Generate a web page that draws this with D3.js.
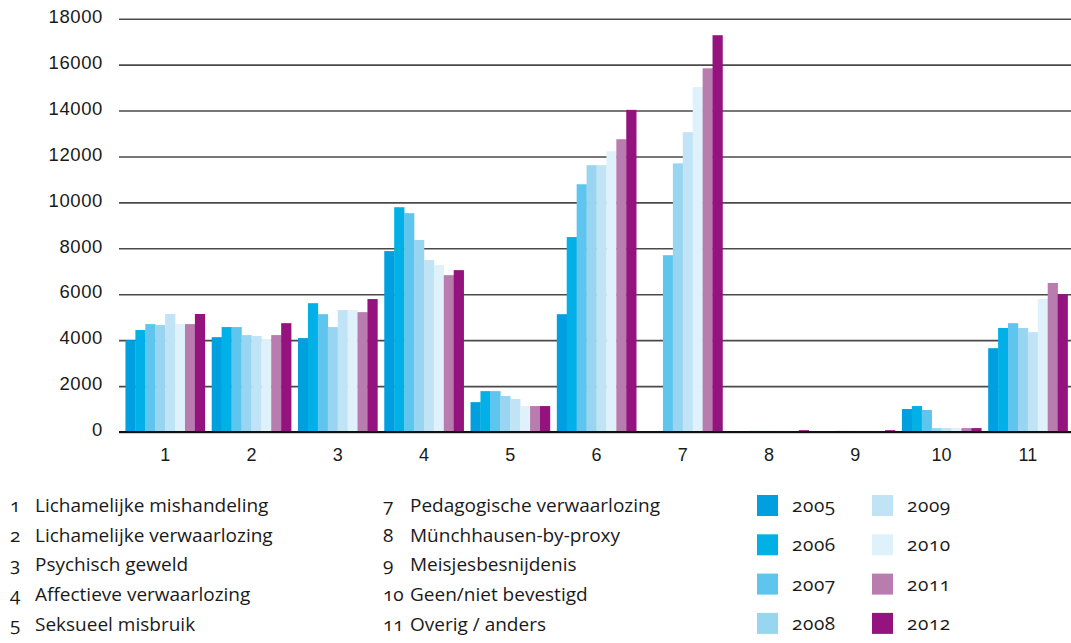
<!DOCTYPE html>
<html>
<head>
<meta charset="utf-8">
<script src="https://cdn.jsdelivr.net/npm/d3@7"></script>
<style>
  html, body { margin: 0; padding: 0; background: #fff; }
  svg { display: block; font-family: "Open Sans", "Noto Sans", sans-serif; font-variant-numeric: oldstyle-nums; }
  .grid line { stroke: #4a4a4a; stroke-width: 1.6; }
  .grid .domain { display: none; }
  .tick text { fill: #1a1a1a; }
</style>
</head>
<body>
<div id="chart"></div>
<script>
const categories = ['1', '2', '3', '4', '5', '6', '7', '8', '9', '10', '11'];
const years = ['2005', '2006', '2007', '2008', '2009', '2010', '2011', '2012'];
const colors = ['#009fe0', '#00b0e6', '#5ec5ee', '#97d5f1', '#c0e4f6', '#dff1fb', '#b87cae', '#94137e'];
// legend as printed (item 6 is not listed in the original)
const legendNumbers = ['1', '2', '3', '4', '5', '7', '8', '9', '10', '11'];
const legendNames = [
  'Lichamelijke mishandeling',
  'Lichamelijke verwaarlozing',
  'Psychisch geweld',
  'Affectieve verwaarlozing',
  'Seksueel misbruik',
  'Pedagogische verwaarlozing',
  'Münchhausen-by-proxy',
  'Meisjesbesnijdenis',
  'Geen/niet bevestigd',
  'Overig / anders',
];
const yTicks = [0, 2000, 4000, 6000, 8000, 10000, 12000, 14000, 16000, 18000];

// one array per year, one value per category 1..11
const v2005 = [4000, 4130, 4090, 7880, 1300, 5130, 0, 0, 0, 1000, 3650];
const v2006 = [4440, 4570, 5610, 9790, 1780, 8490, 0, 0, 0, 1130, 4530];
const v2007 = [4700, 4570, 5130, 9530, 1780, 10790, 7700, 50, 50, 960, 4740];
const v2008 = [4660, 4220, 4570, 8360, 1570, 11620, 11700, 50, 50, 170, 4530];
const v2009 = [5140, 4180, 5310, 7490, 1440, 11620, 13060, 50, 50, 170, 4350];
const v2010 = [4700, 4050, 5310, 7270, 1130, 12230, 15020, 50, 50, 170, 5790];
const v2011 = [4700, 4220, 5220, 6830, 1130, 12750, 15840, 0, 0, 170, 6490];
const v2012 = [5140, 4740, 5790, 7050, 1130, 14030, 17280, 80, 80, 170, 6000];
const series = [v2005, v2006, v2007, v2008, v2009, v2010, v2011, v2012];

const width = 1071;
const height = 643;
const plot = { left: 119, right: 1071, top: 18.7, bottom: 432 };

const svg = d3.select('#chart').append('svg')
  .attr('width', width)
  .attr('height', height);

const x0 = d3.scaleBand()
  .domain(categories)
  .range([plot.left + 3, plot.right])
  .paddingInner(0.08)
  .paddingOuter(0.04);

const x1 = d3.scaleBand()
  .domain(years)
  .range([0, x0.bandwidth()]);

const y = d3.scaleLinear()
  .domain([0, 18000])
  .range([plot.bottom, plot.top]);

// gridlines + tick labels
svg.append('g')
  .attr('class', 'grid')
  .attr('transform', `translate(${plot.left},0)`)
  .call(d3.axisLeft(y).tickValues(yTicks).tickSize(-(plot.right - plot.left)).tickPadding(16).tickFormat(d3.format('d')))
  .call((g) => g.selectAll('.tick text').attr('font-size', 18.5).attr('letter-spacing', 0.6).attr('dy', '0.2em'));

// bars
const groups = svg.append('g')
  .selectAll('g')
  .data(categories)
  .join('g')
  .attr('transform', (d) => `translate(${x0(d)},0)`);

groups.selectAll('rect')
  .data((d, i) => years.map((yr, j) => ({ year: yr, value: series[j][i], color: colors[j] })))
  .join('rect')
  .attr('x', (d) => x1(d.year))
  .attr('width', x1.bandwidth() + 0.3)
  .attr('y', (d) => y(d.value))
  .attr('height', (d) => y(0) - y(d.value))
  .attr('fill', (d) => d.color);

// baseline
svg.append('line')
  .attr('x1', plot.left)
  .attr('x2', plot.right)
  .attr('y1', y(0))
  .attr('y2', y(0))
  .attr('stroke', '#111')
  .attr('stroke-width', 1.8);

// x labels
svg.append('g')
  .attr('transform', `translate(0,${y(0)})`)
  .call(d3.axisBottom(x0).tickSize(0).tickPadding(16))
  .call((g) => g.select('.domain').remove())
  .call((g) => g.selectAll('.tick text').attr('font-size', 18));

// category legend
const catLegend = svg.append('g').attr('font-size', 19).attr('fill', '#1a1a1a');
const catItems = catLegend.selectAll('g')
  .data(legendNames)
  .join('g')
  .attr('transform', (d, i) => {
    const col = i < 5 ? 0 : 1;
    const row = i < 5 ? i : i - 5;
    return `translate(${col ? 383 : 10},${512 + row * 29.7})`;
  });
catItems.append('text').text((d, i) => legendNumbers[i]);
catItems.append('text').attr('x', (d, i) => (i < 5 ? 25 : 27)).text((d) => d);

// year legend
const yearLegend = svg.append('g');
const yearItems = yearLegend.selectAll('g')
  .data(years)
  .join('g')
  .attr('transform', (d, i) => {
    const col = Math.floor(i / 4);
    const row = i % 4;
    return `translate(${col ? 872 : 757},${495 + row * 39.3})`;
  });
yearItems.append('rect').attr('width', 21).attr('height', 21).attr('fill', (d, i) => colors[i]);
yearItems.append('text')
  .attr('x', 35)
  .attr('y', 17)
  .attr('font-size', 19)
  .attr('letter-spacing', 0.6)
  .attr('fill', '#1a1a1a')
  .text((d) => d);
</script>
</body>
</html>
